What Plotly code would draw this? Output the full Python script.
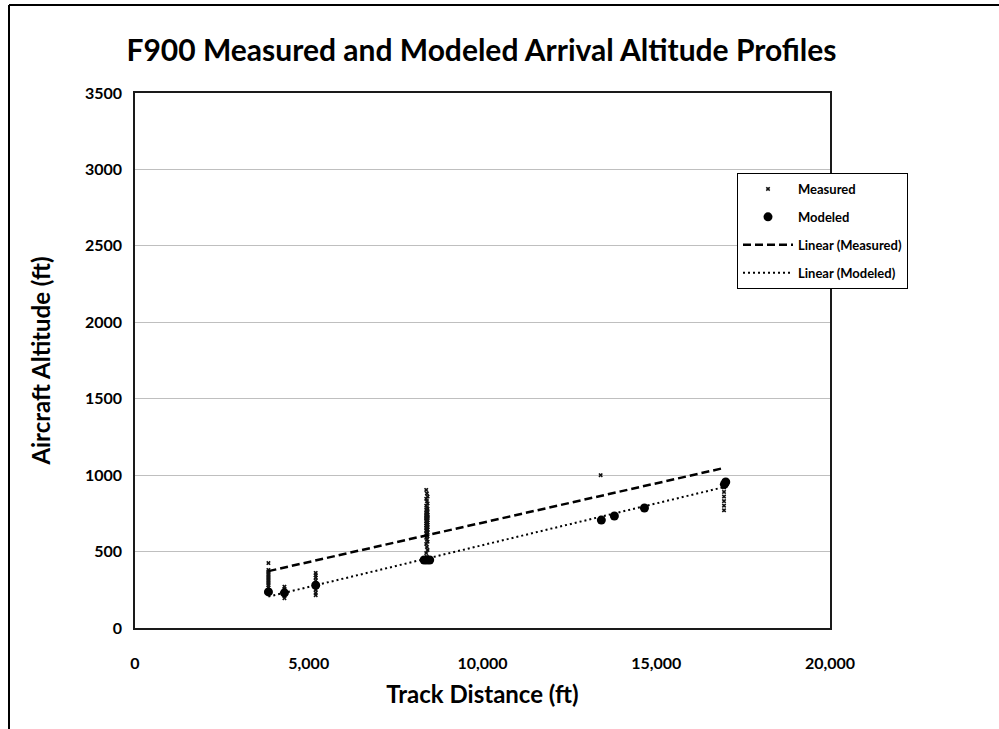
import numpy as np
import plotly.graph_objects as go

# ---- data ----
# Measured altitude samples, grouped by track distance (ft)
meas_dist_a = 3840
meas_alt_a = [425, 380, 370, 360, 350, 340, 330, 320, 310, 300, 290, 280, 265, 250]
meas_dist_b = 4300
meas_alt_b = [270, 255, 240, 225, 210, 195]
meas_dist_c = 5200
meas_alt_c = [360, 345, 330, 310, 290, 270, 250, 230, 215]
meas_dist_d = [8380, 8400, 8420]
meas_alt_d = [903, 880, 860, 845, 830, 815, 800, 790, 780, 772, 765, 758, 752, 746,
              740, 740, 735, 730, 725, 720, 720, 715, 710, 705, 700, 695, 690, 685,
              680, 675, 670, 665, 660, 655, 650, 645, 640, 632, 624, 616, 608, 600,
              590, 578, 565, 550, 530, 510, 490, 465]
meas_dist_e = 13400
meas_alt_e = [1000]
meas_dist_f = 16950
meas_alt_f = [960, 940, 920, 890, 860, 830, 800, 770]

# Modeled profile points
modeled_dist = [3840, 4300, 5200, 8320, 8400, 8480, 13420, 13795, 14660, 16960, 17000]
modeled_alt = [236, 230, 280, 445, 445, 445, 706, 733, 785, 940, 955]

x_ticks = [0, 5000, 10000, 15000, 20000]
y_ticks = [0, 500, 1000, 1500, 2000, 2500, 3000, 3500]

# ---- assemble ----
meas_groups = [(meas_dist_a, meas_alt_a), (meas_dist_b, meas_alt_b), (meas_dist_c, meas_alt_c),
               (meas_dist_d, meas_alt_d), (meas_dist_e, meas_alt_e), (meas_dist_f, meas_alt_f)]
measured_dist = []
measured_alt = []
for d, alts in meas_groups:
    if isinstance(d, list):
        measured_dist += [d[i % len(d)] for i in range(len(alts))]
    else:
        measured_dist += [d] * len(alts)
    measured_alt += alts

FONT = "Lato"

def trend(xv, yv):
    b, a = np.polyfit(np.array(xv, float), np.array(yv, float), 1)
    xs = np.array([min(xv), max(xv)], float)
    return xs, a + b * xs

tmx, tmy = trend(measured_dist, measured_alt)
tdx, tdy = trend(modeled_dist, modeled_alt)

fig = go.Figure()
fig.add_trace(go.Scatter(x=measured_dist, y=measured_alt, mode="markers", name="Measured",
                         legendgroup="g1",
                         marker=dict(symbol="x", size=4, color="#111111",
                                     line=dict(width=0))))
fig.add_trace(go.Scatter(x=modeled_dist, y=modeled_alt, mode="markers", name="Modeled",
                         legendgroup="g2",
                         marker=dict(symbol="circle", size=9, color="black")))
fig.add_trace(go.Scatter(x=tmx, y=tmy, mode="lines", name="Linear (Measured)",
                         legendgroup="g3",
                         line=dict(color="black", width=2.5, dash="8px,4px")))
fig.add_trace(go.Scatter(x=tdx, y=tdy, mode="lines", name="Linear (Modeled)",
                         legendgroup="g4",
                         line=dict(color="black", width=2, dash="2px,3px")))

L, R, T, B = 135, 169, 93, 101
W, H = 999, 729
pw, ph = W - L - R, H - T - B

def px_x(p):
    return (p - L) / pw

def px_y(p):
    return (H - B - p) / ph

fig.update_layout(
    width=W, height=H,
    margin=dict(l=L, r=R, t=T, b=B, autoexpand=False),
    paper_bgcolor="white", plot_bgcolor="white",
    font=dict(family=FONT, color="black"),
    title=dict(text="<b>F900 Measured and Modeled Arrival Altitude Profiles</b>",
               x=0.482, xanchor="center", y=1 - 50 / H, yanchor="middle",
               font=dict(size=30, family=FONT, color="black")),
    showlegend=True,
    legend=dict(x=px_x(737), y=px_y(173), xanchor="left", yanchor="top",
                bgcolor="white", bordercolor="black", borderwidth=1,
                font=dict(size=13, family=FONT, color="black", weight="bold"),
                itemwidth=50, tracegroupgap=8, traceorder="grouped"),
    xaxis=dict(range=[0, 20000], tickvals=x_ticks, tickformat=",d",
               showgrid=False, zeroline=False,
               showline=True, mirror=True, linecolor="#1a1a1a", linewidth=1.5,
               ticks="outside", ticklen=20, tickcolor="rgba(0,0,0,0)",
               tickfont=dict(size=16, family=FONT, weight="bold"),
               title=dict(text="<b>Track Distance (ft)</b>", standoff=15,
                          font=dict(size=24, family=FONT))),
    yaxis=dict(range=[0, 3500], tickvals=y_ticks,
               showgrid=True, gridcolor="#BFBFBF", gridwidth=1, zeroline=False,
               showline=True, mirror=True, linecolor="#1a1a1a", linewidth=1.5,
               ticks="outside", ticklen=8, tickcolor="rgba(0,0,0,0)",
               tickfont=dict(size=16, family=FONT, weight="bold"),
               title=dict(text="<b>Aircraft Altitude (ft)</b>", standoff=28,
                          font=dict(size=24, family=FONT))),
    shapes=[
        dict(type="line", xref="paper", yref="paper", x0=px_x(9), x1=px_x(9),
             y0=px_y(5), y1=px_y(740), line=dict(color="black", width=2)),
        dict(type="line", xref="paper", yref="paper", x0=px_x(9), x1=px_x(1010),
             y0=px_y(5), y1=px_y(5), line=dict(color="black", width=2)),
    ],
)

fig.write_html("out.html")
